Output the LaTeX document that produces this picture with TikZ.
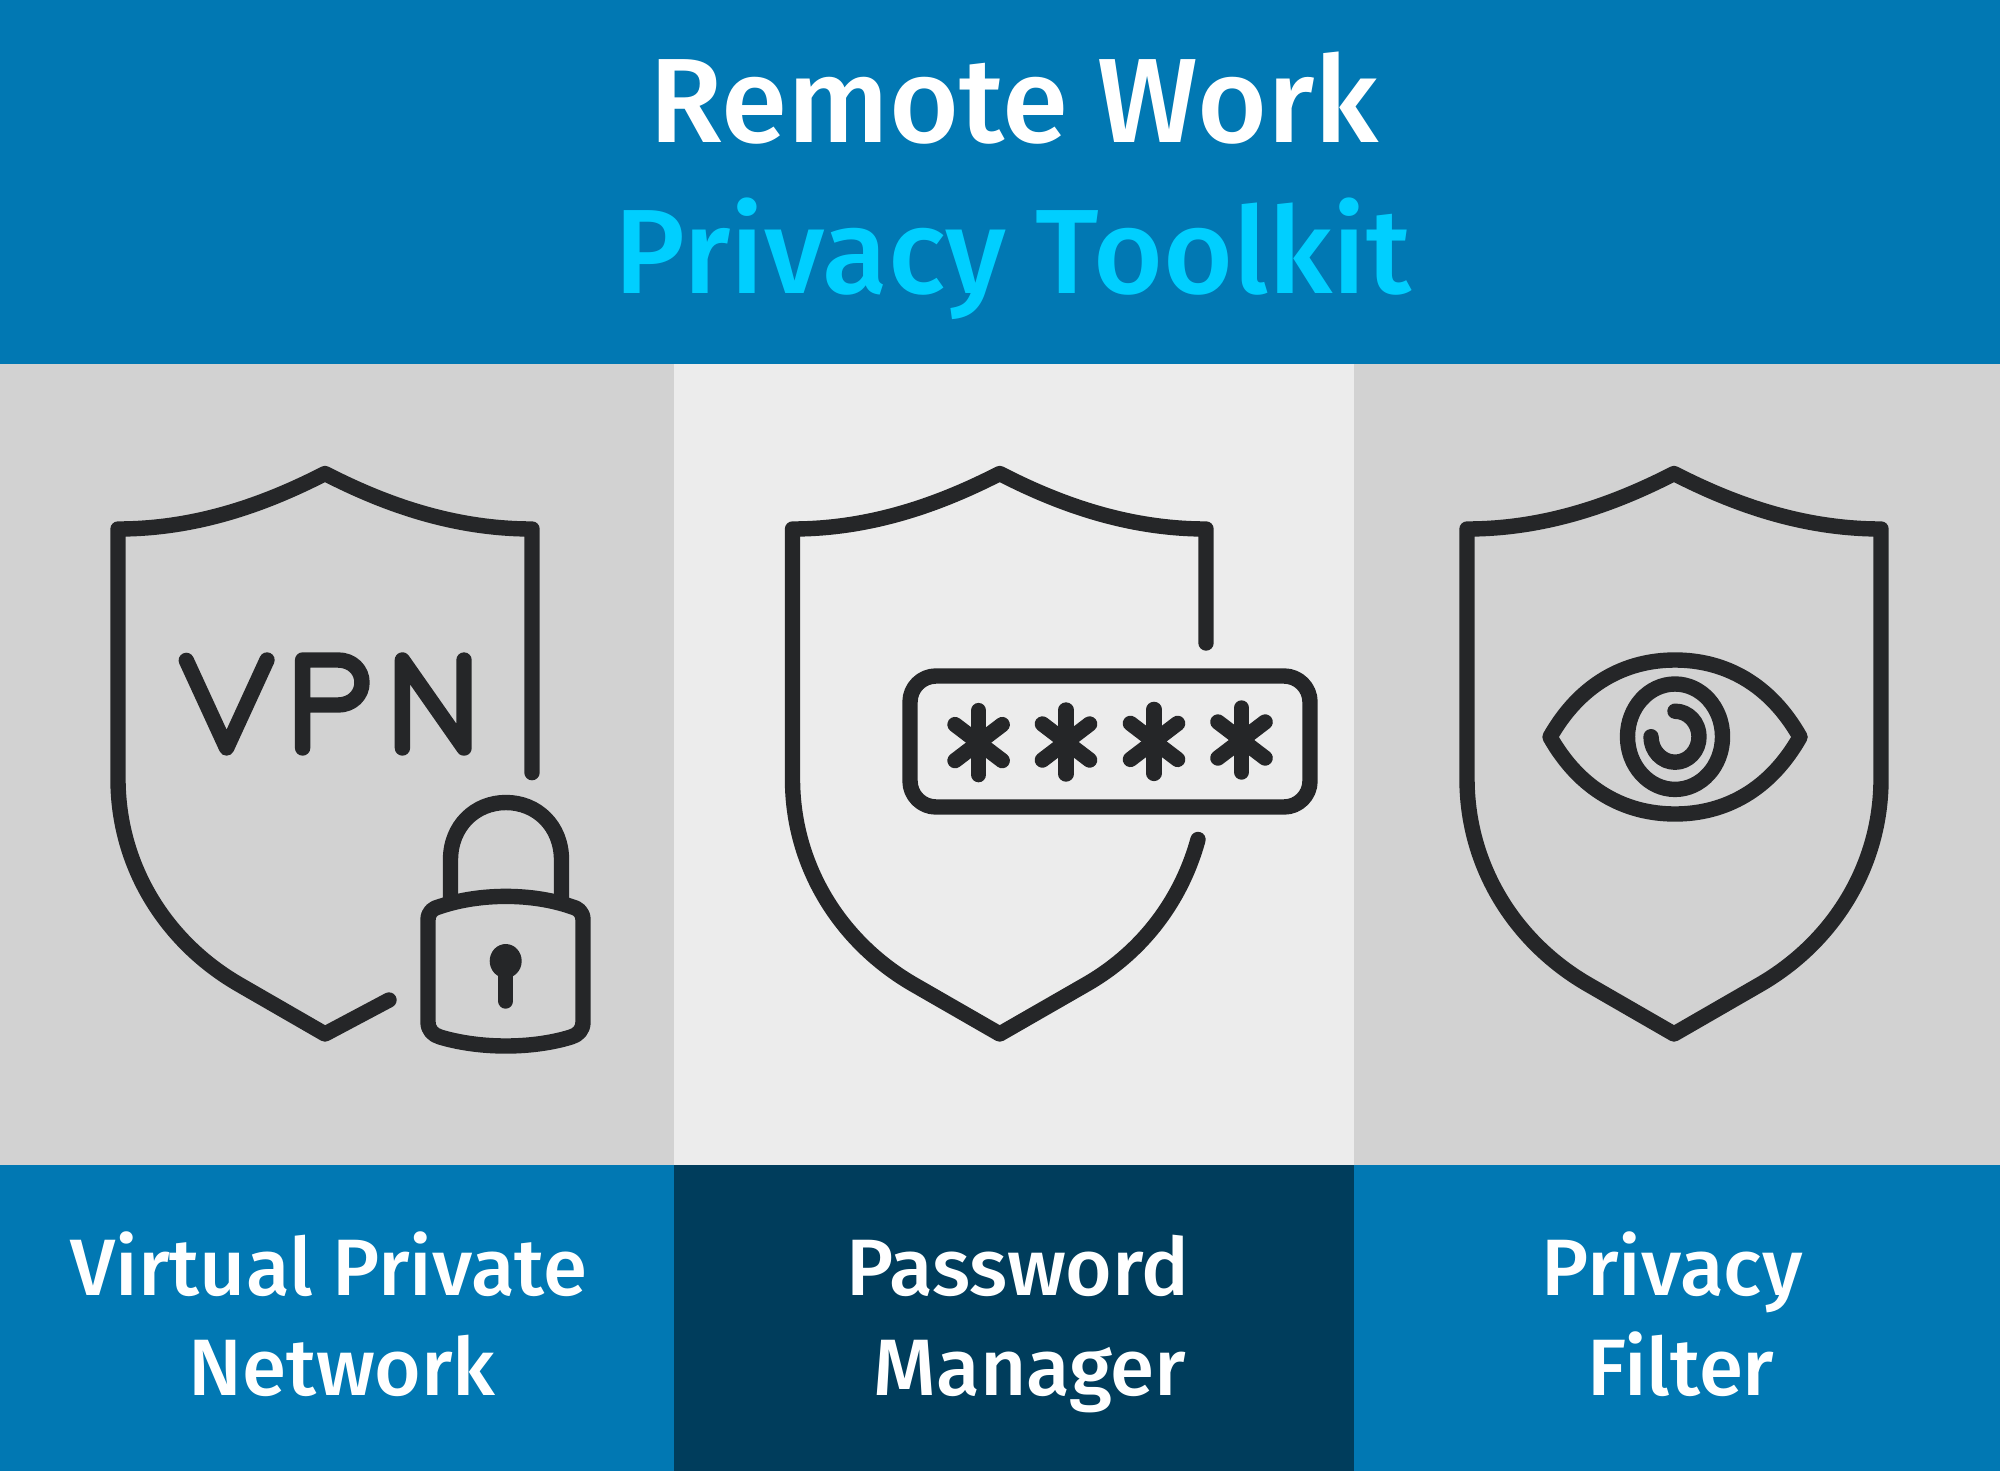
\documentclass[tikz,border=0pt]{standalone}
\usepackage{fontspec}
\setmainfont{Fira Sans Medium}
\definecolor{hdrblue}{HTML}{0178B3}
\definecolor{hdrcyan}{HTML}{00CFFF}
\definecolor{navy}{HTML}{003D5C}
\definecolor{panelgrey}{HTML}{D2D2D2}
\definecolor{panellight}{HTML}{ECECEC}
\definecolor{ink}{HTML}{252628}
\tikzset{
  icon/.style={draw=ink,line width=7.7pt,line cap=round,line join=round},
  titletext/.style={font=\fontsize{60}{60}\selectfont,inner sep=0pt,anchor=base},
  labeltext/.style={font=\fontsize{40}{40}\selectfont,text=white,inner sep=0pt,anchor=base}
}
\begin{document}
\begin{tikzpicture}[x=0.5pt,y=-0.5pt]
\useasboundingbox (0,0) rectangle (2000,1471);
\fill[hdrblue] (0,0) rectangle (2000,364);
\fill[panelgrey] (0,364) rectangle (674,1165);
\fill[panellight] (674,364) rectangle (1354,1165);
\fill[panelgrey] (1354,364) rectangle (2000,1165);
\fill[hdrblue] (0,1165) rectangle (674,1471);
\fill[navy] (674,1165) rectangle (1354,1471);
\fill[hdrblue] (1354,1165) rectangle (2000,1471);
\node[titletext,text=white] (t1) at (1014,143) {Remote Work};
\node[titletext,text=hdrcyan] (t2) at (1013,293) {Privacy Toolkit};
\node[labeltext] (a1) at (329,1295) {Virtual Private};
\node[labeltext] (a2) at (342,1395) {Network};
\node[labeltext] (b1) at (1018,1295) {Password};
\node[labeltext] (b2) at (1030,1395) {Manager};
\node[labeltext] (c1) at (1672,1295) {Privacy};
\node[labeltext] (c2) at (1681,1395) {Filter};
% shield 1
\draw[icon] (532,772.6) -- (532,529) .. controls (458,529) and (390,507) .. (325,473.5)
  .. controls (260,507) and (192,529) .. (118,529) -- (118,779)
  .. controls (118,865) and (165,942) .. (240,985) -- (325,1034) -- (389,1000);
\draw[icon] (186.3,660.4) -- (226.6,748) -- (267,660);
\draw[icon] (302.6,748) -- (302.6,660) -- (338,660) .. controls (352,660) and (362,670) .. (362,682.5) .. controls (362,695) and (352,705) .. (338,705) -- (302.6,705);
\draw[icon] (402.4,748) -- (402.4,660) -- (464,748) -- (464,660);
\draw[icon] (450.5,897) -- (450.5,860) .. controls (450.5,826) and (475,802.5) .. (506,802.5) .. controls (537,802.5) and (561.5,826) .. (561.5,860) -- (561.5,897);
\draw[icon] (428,920) .. controls (428,912) and (433,908) .. (440,906.5) .. controls (480,893) and (532,893) .. (571,906.5) .. controls (578,908) and (583,912) .. (583,920) -- (583,1022) .. controls (583,1030) and (578,1035) .. (571,1037) .. controls (532,1049) and (480,1049) .. (440,1037) .. controls (433,1035) and (428,1030) .. (428,1022) -- cycle;
\fill[ink] (505.7,961) ellipse (16 and 17);
\draw[icon] (505.7,961) -- (505.7,1001);
% shield 2
\draw[icon] (1206,643) -- (1206,529) .. controls (1132.5,529) and (1064.5,507) .. (999.7,473.5)
  .. controls (934.5,507) and (866.5,529) .. (792.5,529) -- (792.5,779)
  .. controls (792.5,865) and (839.5,942) .. (914.5,985) -- (999.7,1034) -- (1085,985)
  .. controls (1138,955) and (1180,905) .. (1198,839.5);
\draw[icon] (936,676) -- (1284,676) arc (-90:0:26) -- (1310,781) arc (0:90:26) -- (936,807) arc (90:180:26) -- (910,702) arc (180:270:26) -- cycle;
\foreach \n/\cx/\cy in {p/978.6/742.6,q/1066/742,r/1154/741.4,s/1241.5/740}{
  \draw[icon] (\cx,\cy-32) -- (\cx,\cy+32);
  \draw[icon] (\cx-23.6,\cy-18) -- (\cx+23.6,\cy+18);
  \draw[icon] (\cx-23.6,\cy+18) -- (\cx+23.6,\cy-18);
}
% shield 3
\draw[icon] (1881,529) .. controls (1807,529) and (1739,507) .. (1674,473.5)
  .. controls (1609,507) and (1541,529) .. (1467,529) -- (1467,779)
  .. controls (1467,865) and (1514,942) .. (1589,985) -- (1674,1034) -- (1759,985)
  .. controls (1834,942) and (1881,865) .. (1881,779) -- cycle;
\draw[icon] (1550,737) .. controls (1580,684) and (1625,660) .. (1675,660) .. controls (1725,660) and (1770,684) .. (1800,737) .. controls (1770,790) and (1725,814) .. (1675,814) .. controls (1625,814) and (1580,790) .. (1550,737) -- cycle;
\draw[icon] (1675,736.7) ellipse (47.5 and 52.7);
\draw[icon] (1651,736.7) arc (180:-90:24 and 25.5);
\end{tikzpicture}
\end{document}
